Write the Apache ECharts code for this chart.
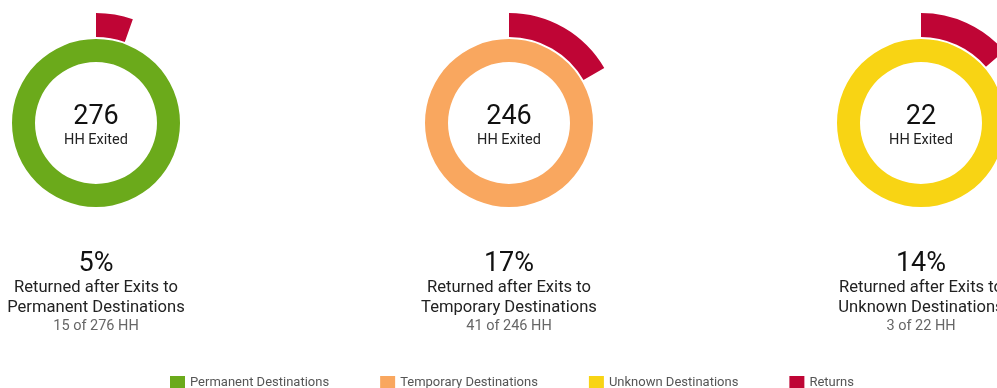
<!DOCTYPE html>
<html>
<head>
<meta charset="utf-8">
<script src="https://cdn.jsdelivr.net/npm/echarts@6/dist/echarts.min.js"></script>
<style>
  html, body { margin: 0; padding: 0; background: #fff; }
  #chart { width: 997px; height: 388px; }
</style>
</head>
<body>
<div id="chart"></div>
<script>
// Exit destination groups and households returning to homelessness
const groups = ['Permanent Destinations', 'Temporary Destinations', 'Unknown Destinations'];
const shortNames = ['Permanent', 'Temporary', 'Unknown'];
const exited = [276, 246, 22];
const returned = [15, 41, 3];
const groupColors = ['#6BAA1B', '#F9A75F', '#F8D414'];
const returnColor = '#BF0535';
const returnName = 'Returns';

const centersX = [96, 509, 921];
const centerY = 123;
const font = 'Roboto, "Noto Sans", sans-serif';

const series = [];
const graphics = [];

groups.forEach((g, i) => {
  // full ring for all households exited
  series.push({
    type: 'pie',
    center: [centersX[i], centerY],
    radius: [61, 84],
    silent: true,
    label: { show: false },
    labelLine: { show: false },
    data: [{ name: g, value: exited[i], itemStyle: { color: groupColors[i] } }]
  });
  // outer arc for the share that returned
  series.push({
    type: 'pie',
    center: [centersX[i], centerY],
    radius: [86, 110],
    startAngle: 90,
    clockwise: true,
    silent: true,
    label: { show: false },
    labelLine: { show: false },
    data: [
      { name: returnName, value: returned[i], itemStyle: { color: returnColor } },
      { name: 'rest', value: exited[i] - returned[i], itemStyle: { color: 'rgba(0,0,0,0)' } }
    ]
  });

  const pct = Math.round(returned[i] / exited[i] * 100) + '%';
  const x = centersX[i];
  const txt = (y, text, size, color) => ({
    type: 'text', x: x, y: y,
    style: { text: text, fill: color, font: size + 'px ' + font, textAlign: 'center', textVerticalAlign: 'middle' }
  });
  graphics.push(txt(117, String(exited[i]), 27, '#111'));
  graphics.push(txt(140, 'HH Exited', 14.5, '#222'));
  graphics.push(txt(264, pct, 27, '#111'));
  graphics.push(txt(288, 'Returned after Exits to', 16.6, '#222'));
  graphics.push(txt(308, shortNames[i] + ' Destinations', 16.6, '#222'));
  graphics.push(txt(326, returned[i] + ' of ' + exited[i] + ' HH', 14.5, '#666'));
});

const chart = echarts.init(document.getElementById('chart'), null, { renderer: 'canvas' });
chart.setOption({
  animation: false,
  backgroundColor: '#fff',
  legend: {
    data: groups.concat([returnName]),
    top: 371,
    left: 165,
    itemWidth: 15,
    itemHeight: 13,
    itemGap: 51,
    icon: 'rect',
    selectedMode: false,
    textStyle: { fontFamily: font, fontSize: 13, color: '#555' }
  },
  graphic: graphics,
  series: series
});
</script>
</body>
</html>
